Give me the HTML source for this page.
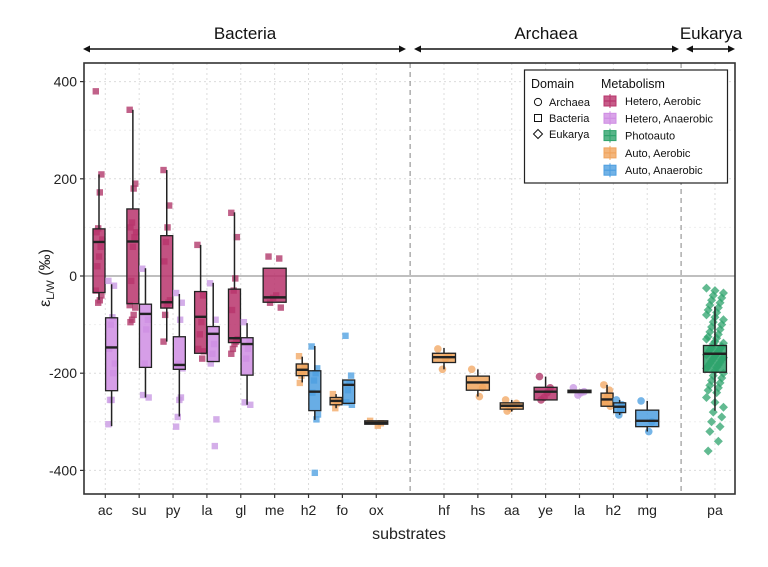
<!DOCTYPE html>
<html><head><meta charset="utf-8">
<style>
html,body{margin:0;padding:0;background:#fff;}
svg{display:block;font-family:"Liberation Sans",Arial,sans-serif;}
</style></head>
<body>
<svg id="chart" width="768" height="567" viewBox="0 0 768 567" xmlns="http://www.w3.org/2000/svg">
  <g id="grid"></g>
  <g id="marks"></g>
  <g id="axes"></g>
</svg>
<script>
// ---------- data ----------
const categories = ["ac","su","py","la","gl","me","h2","fo","ox","hf","hs","aa","ye","la","h2","mg","pa"];
const catSlots   = [0,1,2,3,4,5,6,7,8,10,11,12,13,14,15,16,18];
const yTicks = [400,200,0,-200,-400];
const yTickLabels = ["400","200","0","-200","-400"];
const metabNames = ["Hetero, Aerobic","Hetero, Anaerobic","Photoauto","Auto, Aerobic","Auto, Anaerobic"];
const domainNames = ["Archaea","Bacteria","Eukarya"];
const groupCat   = [0,0,1,1,2,2,3,3,4,4,5,6,6,7,7,8,9,10,11,12,13,14,14,15,16];
const groupMetab = [0,1,0,1,0,1,0,1,0,1,0,3,4,3,4,3,3,3,3,0,1,3,4,4,2];
const groupDodge = [-1,1,-1,1,-1,1,-1,1,-1,1,0,-1,1,-1,1,0,0,0,0,0,0,-1,1,0,0];
const groupDomain= ["B","B","B","B","B","B","B","B","B","B","B","B","B","B","B","B","A","A","A","A","A","A","A","A","E"];
const q1  = [-34,-236,-57,-188,-66,-192,-159,-176,-137,-204,-54,-205,-277,-265,-262,-305,-178,-235,-274,-255,-240,-268,-281,-310,-198];
const med = [70,-147,71,-78,-54,-183,-84,-119,-128,-140,-44,-193,-238,-257,-224,-302,-167,-219,-267,-238,-238,-254,-269,-298,-160];
const q3  = [97,-86,138,-58,83,-125,-32,-104,-27,-127,16,-181,-195,-250,-214,-298,-159,-206,-261,-229,-235,-241,-261,-276,-143];
const wLo = [-49,-309,-57,-250,-135,-289,-159,-176,-137,-265,-54,-219,-296,-272,-262,-305,-192,-248,-279,-255,-240,-268,-286,-320,-277];
const wHi = [209,-17,342,16,218,-37,64,-14,131,-97,16,-166,-144,-243,-214,-298,-148,-192,-255,-207,-235,-224,-255,-257,-63];
const pts = [
 [380,209,172,98,90,75,60,40,20,-30,-40,-50,-55],
 [-10,-20,-85,-100,-150,-180,-200,-255,-255,-305],
 [342,190,180,110,100,90,80,60,-10,-60,-65,-80,-90,-95],
 [15,-90,-110,-180,-245,-250],
 [218,145,100,70,30,-50,-55,-60,-80,-135],
 [-35,-55,-90,-180,-185,-190,-250,-255,-290,-310],
 [64,-40,-95,-120,-150,-155,-170],
 [-15,-90,-140,-160,-180,-295,-350],
 [130,80,-5,-30,-70,-130,-135,-140,-150,-160],
 [-95,-135,-150,-170,-260,-265],
 [40,36,-40,-45,-55,-65],
 [-165,-185,-195,-205,-220],
 [-145,-190,-200,-215,-240,-285,-295,-405],
 [-243,-255,-262,-272],
 [-123,-205,-220,-235,-260,-265],
 [-298,-303,-308],
 [-150,-165,-170,-192],
 [-192,-230,-248],
 [-255,-262,-268,-272,-278],
 [-207,-230,-240,-250,-255],
 [-230,-238,-240,-245],
 [-224,-235,-245,-255,-260,-268],
 [-255,-265,-275,-286],
 [-257,-300,-320],
 [-25,-30,-35,-40,-45,-50,-55,-60,-65,-70,-75,-80,-85,-90,-95,-100,-105,-110,-115,-120,-125,-128,-130,-135,-138,-140,-145,-148,-150,-152,-155,-158,-160,-162,-165,-168,-170,-172,-175,-178,-180,-183,-185,-188,-190,-195,-200,-205,-210,-215,-220,-225,-230,-235,-240,-250,-260,-270,-280,-290,-300,-310,-320,-340,-360]
];
// ---------- styling ----------
const fills  = ["#b8346c","#cf8de3","#2ea36c","#f0a45c","#4e9fe0"];
const ptCols = ["#b23a6c","#c99ae3","#2ea36c","#f3aa68","#52a2e2"];
const L=84, R=735, T=63, B=494;
const slotX0=105.3, slotW=33.87;
function xs(slot){return slotX0+slot*slotW;}
function ys(v){return 276 - v*0.486;}
const NS="http://www.w3.org/2000/svg";
function mk(tag,attrs,parent){const e=document.createElementNS(NS,tag);for(const k in attrs)e.setAttribute(k,attrs[k]);parent.appendChild(e);return e;}
const grid=document.getElementById('grid'), marks=document.getElementById('marks'), axes=document.getElementById('axes');

[300,100,-100,-300].forEach(v=>{mk('line',{x1:L,x2:R,y1:ys(v),y2:ys(v),stroke:'#eeeeee','stroke-width':1,'stroke-dasharray':'2,3'},grid);});
yTicks.forEach(v=>{const g=mk('line',{x1:L,x2:R,y1:ys(v),y2:ys(v),stroke:'#dcdcdc','stroke-width':1,'stroke-dasharray':'2,3'},grid);
 
 });
catSlots.forEach(s=>{const g=mk('line',{x1:xs(s),x2:xs(s),y1:T,y2:B,stroke:'#dcdcdc','stroke-width':1,'stroke-dasharray':'2,3'},grid);
 
 });
const zl=mk('line',{x1:L,x2:R,y1:ys(0),y2:ys(0),stroke:'#999','stroke-width':1.2},grid);


[9,17].forEach(s=>{const d=mk('line',{x1:xs(s),x2:xs(s),y1:T,y2:B,stroke:'#999','stroke-width':1.2,'stroke-dasharray':'5,4'},grid);
 
 });

for(let g=0; g<q1.length; g++){
  const dodge=groupDodge[g];
  const cx = xs(catSlots[groupCat[g]]) + dodge*6.3;
  const w = dodge===0 ? 23 : 12;
  const m = groupMetab[g];
  const grp=mk('g',{},marks);
  
  
  pts[g].forEach((v,i)=>{
    const jx = cx + ((i*7)%9-4)*(w/12)*0.8;
    const py = ys(v);
    let p;
    if(groupDomain[g]==="B"){p=mk('rect',{x:jx-3.2,y:py-3.2,width:6.4,height:6.4,fill:ptCols[m],opacity:0.8},grp);}
    else if(groupDomain[g]==="A"){p=mk('circle',{cx:jx,cy:py,r:3.8,fill:ptCols[m],opacity:0.8},grp);}
    else {const jx2 = cx + ((i*5)%11-5)*1.7; p=mk('polygon',{points:`${jx2},${py-4.5} ${jx2+4.5},${py} ${jx2},${py+4.5} ${jx2-4.5},${py}`,fill:ptCols[m],opacity:0.75},grp);}
    
    
  });
  mk('line',{x1:cx,x2:cx,y1:ys(wHi[g]),y2:ys(q3[g]),stroke:'#222','stroke-width':1.5},grp);
  mk('line',{x1:cx,x2:cx,y1:ys(q1[g]),y2:ys(wLo[g]),stroke:'#222','stroke-width':1.5},grp);
  const top=ys(q3[g]), bot=ys(q1[g]);
  mk('rect',{x:cx-w/2,y:top,width:w,height:Math.max(bot-top,1.5),fill:fills[m],'fill-opacity':0.85,stroke:'#222','stroke-width':1.3},grp);
  mk('line',{x1:cx-w/2,x2:cx+w/2,y1:ys(med[g]),y2:ys(med[g]),stroke:'#222','stroke-width':2.4},grp);
}

const fr=mk('rect',{x:L,y:T,width:R-L,height:B-T,fill:'none',stroke:'#333','stroke-width':1.6},axes);


yTicks.forEach((v,i)=>{
  mk('line',{x1:L-4,x2:L,y1:ys(v),y2:ys(v),stroke:'#333','stroke-width':1.2},axes);
  const t=mk('text',{x:L-7,y:ys(v)+5,'text-anchor':'end','font-size':14,fill:'#222'},axes);
  t.textContent=yTickLabels[i];
  
  
});
categories.forEach((c,i)=>{
  const x=xs(catSlots[i]);
  mk('line',{x1:x,x2:x,y1:B,y2:B+4,stroke:'#333','stroke-width':1.2},axes);
  const t=mk('text',{x:x,y:B+21,'text-anchor':'middle','font-size':14,fill:'#222'},axes);
  t.textContent=c;
  
  
});
const xt=mk('text',{x:409,y:539,'text-anchor':'middle','font-size':16,fill:'#222'},axes);
xt.textContent='substrates';


const yt=mk('text',{x:0,y:0,'text-anchor':'middle','font-size':16,fill:'#222',transform:'translate(50,278) rotate(-90)'},axes);
yt.innerHTML='ε<tspan font-size="11" dy="4">L/W</tspan><tspan dy="-4"> (‰)</tspan>';



const heads=[["Bacteria",83,406,245],["Archaea",414,679,546],["Eukarya",686,735,711]];
heads.forEach(h=>{
  const g=mk('g',{},axes);
  
  
  mk('line',{x1:h[1]+4,x2:h[2]-4,y1:49,y2:49,stroke:'#111','stroke-width':1.6},g);
  mk('polygon',{points:`${h[1]},49 ${h[1]+7},45.5 ${h[1]+7},52.5`,fill:'#111'},g);
  mk('polygon',{points:`${h[2]},49 ${h[2]-7},45.5 ${h[2]-7},52.5`,fill:'#111'},g);
  const t=mk('text',{x:h[3],y:39,'text-anchor':'middle','font-size':17,fill:'#111'},g);
  t.textContent=h[0];
});

const lg=mk('g',{},axes);


mk('rect',{x:524.5,y:70,width:203,height:113,fill:'#fff',stroke:'#222','stroke-width':1.2},lg);
let tt=mk('text',{x:531,y:88,'font-size':12.5,fill:'#111'},lg); tt.textContent='Domain';
tt=mk('text',{x:601,y:88,'font-size':12.5,fill:'#111'},lg); tt.textContent='Metabolism';
domainNames.forEach((d,i)=>{
  const y=102+i*16;
  const e=mk('g',{},lg);
  
  
  if(i===0) mk('circle',{cx:538,cy:y,r:3.6,fill:'none',stroke:'#111','stroke-width':1},e);
  else if(i===1) mk('rect',{x:534.5,y:y-3.5,width:7,height:7,fill:'none',stroke:'#111','stroke-width':1},e);
  else mk('polygon',{points:`538,${y-4.5} 542.5,${y} 538,${y+4.5} 533.5,${y}`,fill:'none',stroke:'#111','stroke-width':1},e);
  const t=mk('text',{x:549,y:y+4,'font-size':11,fill:'#111'},e); t.textContent=d;
});
metabNames.forEach((n,i)=>{
  const y=101+i*17.3;
  const e=mk('g',{},lg);
  
  
  mk('line',{x1:610,x2:610,y1:y-7,y2:y+7,stroke:fills[i],'stroke-width':1},e);
  mk('rect',{x:604,y:y-5,width:12,height:10,fill:fills[i],'fill-opacity':0.8,stroke:fills[i],'stroke-width':1},e);
  mk('line',{x1:604,x2:616,y1:y,y2:y,stroke:fills[i],'stroke-width':1.2},e);
  const t=mk('text',{x:625,y:y+4,'font-size':11,fill:'#111'},e); t.textContent=n;
});
</script>
</body></html>
